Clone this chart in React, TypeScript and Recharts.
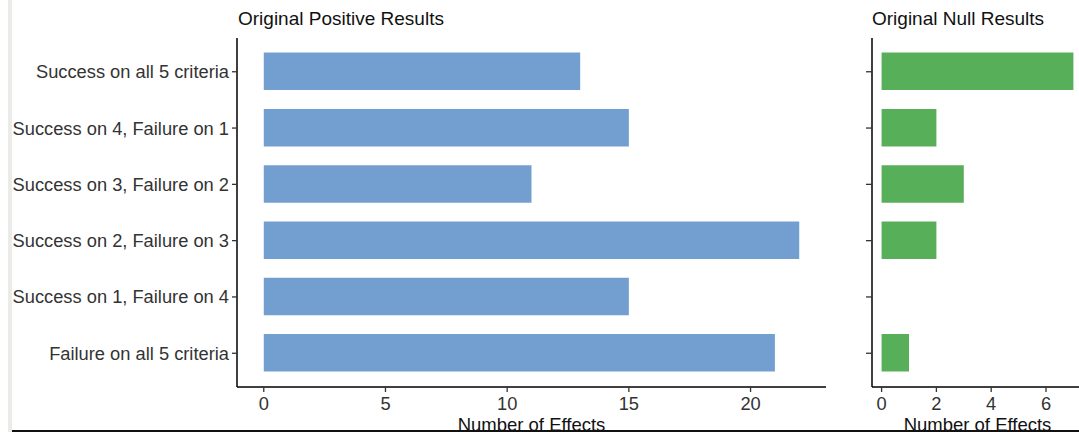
import { BarChart, Bar, XAxis, YAxis } from 'recharts';

const outcomes = [
  'Success on all 5 criteria',
  'Success on 4, Failure on 1',
  'Success on 3, Failure on 2',
  'Success on 2, Failure on 3',
  'Success on 1, Failure on 4',
  'Failure on all 5 criteria',
];
const positiveCounts = [13, 15, 11, 22, 15, 21];
const nullCounts = [7, 2, 3, 2, 0, 1];
const positiveTicks = [0, 5, 10, 15, 20];
const nullTicks = [0, 2, 4, 6];

const FONT = '"Liberation Sans", Arial, Helvetica, sans-serif';
const BLUE = '#729fcf';
const GREEN = '#57af59';

const positiveData = outcomes.map((name, i) => ({ name, count: positiveCounts[i] }));
const nullData = outcomes.map((name, i) => ({ name, count: nullCounts[i] }));

const tickStyle = { fontSize: 18.3, fill: '#333', fontFamily: FONT };
const axisLine = { stroke: '#000', strokeWidth: 1.5 };
const tickLine = { stroke: '#333', strokeWidth: 1.3 };
const axisLabel = (value: string) => ({
  value,
  position: 'insideBottom' as const,
  offset: 1,
  fill: '#111',
  fontSize: 18.5,
  fontFamily: FONT,
});

const titleStyle: React.CSSProperties = {
  position: 'absolute',
  top: 9,
  fontSize: 19,
  lineHeight: 1,
  color: '#111',
  whiteSpace: 'nowrap',
};

export default function App() {
  return (
    <div
      style={{
        position: 'fixed',
        left: 0,
        top: 0,
        width: 1079,
        height: 432,
        overflow: 'hidden',
        background: '#fff',
        fontFamily: FONT,
      }}
    >
      <div style={{ ...titleStyle, left: 238 }}>Original Positive Results</div>
      <div style={{ ...titleStyle, left: 872 }}>Original Null Results</div>

      <div style={{ position: 'absolute', left: 0, top: 0 }}>
        <BarChart
          width={840}
          height={432}
          layout="vertical"
          data={positiveData}
          margin={{ top: 38, right: 14, bottom: 0, left: 0 }}
        >
          <XAxis
            type="number"
            domain={[-1.1, 23.1]}
            ticks={positiveTicks}
            height={45}
            tickSize={5}
            tickMargin={5}
            tick={tickStyle}
            axisLine={axisLine}
            tickLine={tickLine}
            label={axisLabel('Number of Effects')}
          />
          <YAxis
            type="category"
            dataKey="name"
            width={237}
            tickSize={5}
            tickMargin={3}
            tick={tickStyle}
            axisLine={axisLine}
            tickLine={tickLine}
            padding={{ top: 5.6, bottom: 5.6 }}
            interval={0}
          />
          <Bar dataKey="count" fill={BLUE} barSize={37.5} isAnimationActive={false} />
        </BarChart>
      </div>

      <div style={{ position: 'absolute', left: 840, top: 0 }}>
        <BarChart
          width={260}
          height={432}
          layout="vertical"
          data={nullData}
          margin={{ top: 38, right: 17, bottom: 0, left: 0 }}
        >
          <XAxis
            type="number"
            domain={[-0.35, 7.35]}
            ticks={nullTicks}
            height={45}
            tickSize={5}
            tickMargin={5}
            tick={tickStyle}
            axisLine={axisLine}
            tickLine={tickLine}
            label={axisLabel('Number of Effects')}
          />
          <YAxis
            type="category"
            dataKey="name"
            width={32}
            tickSize={6}
            tickFormatter={() => ''}
            tick={tickStyle}
            axisLine={axisLine}
            tickLine={tickLine}
            padding={{ top: 5.6, bottom: 5.6 }}
            interval={0}
          />
          <Bar dataKey="count" fill={GREEN} barSize={37.5} isAnimationActive={false} />
        </BarChart>
      </div>

      <div style={{ position: 'absolute', left: 8, top: 0, width: 4, height: 432, background: '#ebebe8' }} />
      <div style={{ position: 'absolute', left: 12, top: 430, width: 1067, height: 2, background: '#111' }} />
    </div>
  );
}
